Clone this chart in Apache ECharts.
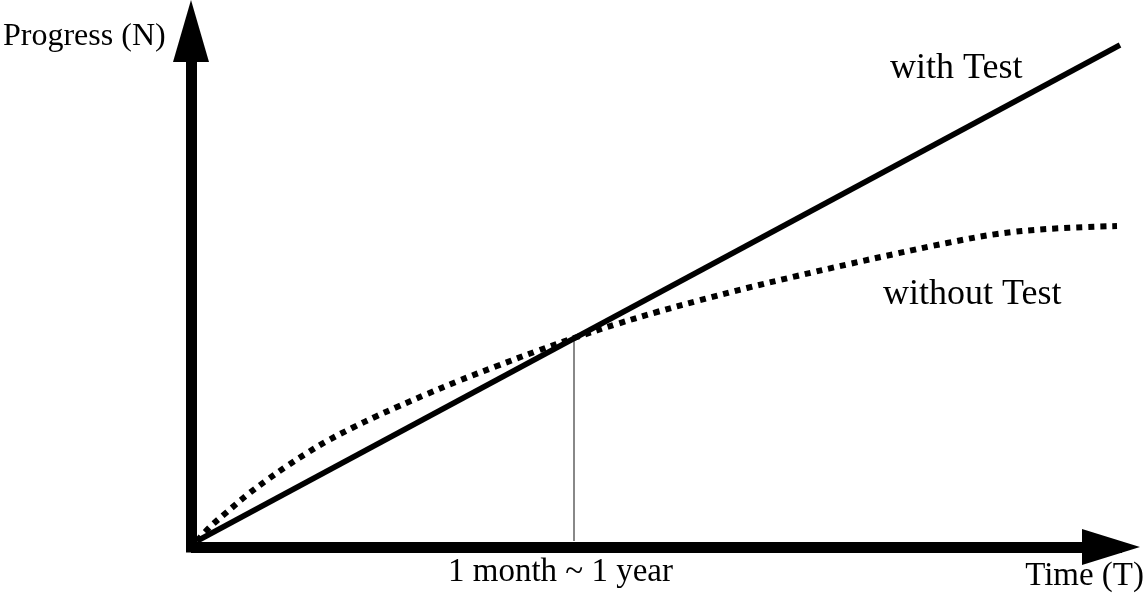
<!DOCTYPE html>
<html>
<head>
<meta charset="utf-8">
<script src="https://cdn.jsdelivr.net/npm/echarts@6/dist/echarts.min.js"></script>
<style>
html,body{margin:0;padding:0;background:#fff;}
#c{width:1145px;height:602px;}
</style>
</head>
<body>
<div id="c"></div>
<script>
// Data (arbitrary units)
const curveTime = [0, 1.3, 3, 5, 7, 9, 11, 13, 15.5, 18, 20, 23, 26, 30, 34, 38, 42, 46, 50, 55, 60, 65, 70, 75, 80, 85, 92];
const withoutTest = [0, 1.4, 2.9, 4.6, 6.1, 7.5, 8.8, 10.0, 11.3, 12.5, 13.4, 14.7, 15.95, 17.5, 19.0, 20.4, 21.7, 22.9, 24.0, 25.3, 26.5, 27.65, 28.75, 29.8, 30.7, 31.2, 31.5];
const withTestTime = [0, 92.3];
const withTestValue = [0, 49.6];
const markerTime = [37.7, 37.7];
const markerValue = [0, 20.3];

const font = 'Liberation Serif, Times New Roman, serif';
const zip = (a, b) => a.map((v, i) => [v, b[i]]);

const chart = echarts.init(document.getElementById('c'));
chart.setOption({
  animation: false,
  backgroundColor: '#fff',
  grid: { left: 191, right: 23, top: 31, bottom: 55, containLabel: false },
  xAxis: {
    type: 'value', min: -0.6, max: 92.5,
    axisLine: { show: true, onZero: false, symbol: ['none', 'triangle'], symbolSize: [36, 58], symbolOffset: [0, -11],
      lineStyle: { color: '#000', width: 11, cap: 'butt' } },
    axisTick: { show: false }, axisLabel: { show: false }, splitLine: { show: false }
  },
  yAxis: {
    type: 'value', min: -0.6, max: 51,
    axisLine: { show: true, onZero: false, symbol: ['none', 'triangle'], symbolSize: [36, 62],
      lineStyle: { color: '#000', width: 11, cap: 'square' } },
    axisTick: { show: false }, axisLabel: { show: false }, splitLine: { show: false }
  },
  series: [
    {
      name: 'marker', type: 'line', data: zip(markerTime, markerValue), showSymbol: false, symbol: 'none',
      lineStyle: { color: '#888', width: 2 }, clip: false, silent: true, z: 1
    },
    {
      name: 'without Test', type: 'line', data: zip(curveTime, withoutTest), symbol: 'none', smooth: 0.4,
      lineStyle: { color: '#000', width: 6, type: [6, 6], cap: 'butt', join: 'round' }, clip: false, silent: true, z: 3
    },
    {
      name: 'with Test', type: 'line', data: zip(withTestTime, withTestValue), symbol: 'none',
      lineStyle: { color: '#000', width: 5.5 }, clip: false, silent: true, z: 4
    }
  ],
  graphic: [
    { type: 'text', x: 3, y: 36.5, style: { text: 'Progress (N)', font: '32px ' + font, fill: '#000', verticalAlign: 'middle', align: 'left' } },
    { type: 'text', x: 890, y: 69, style: { text: 'with Test', font: '36px ' + font, fill: '#000', verticalAlign: 'middle', align: 'left' } },
    { type: 'text', x: 883, y: 295, style: { text: 'without Test', font: '36px ' + font, fill: '#000', verticalAlign: 'middle', align: 'left' } },
    { type: 'text', x: 448, y: 572.5, style: { text: '1 month ~ 1 year', font: '33px ' + font, fill: '#000', verticalAlign: 'middle', align: 'left' } },
    { type: 'text', x: 1144, y: 576.5, style: { text: 'Time (T)', font: '33px ' + font, fill: '#000', verticalAlign: 'middle', align: 'right' } }
  ]
});
</script>
</body>
</html>
